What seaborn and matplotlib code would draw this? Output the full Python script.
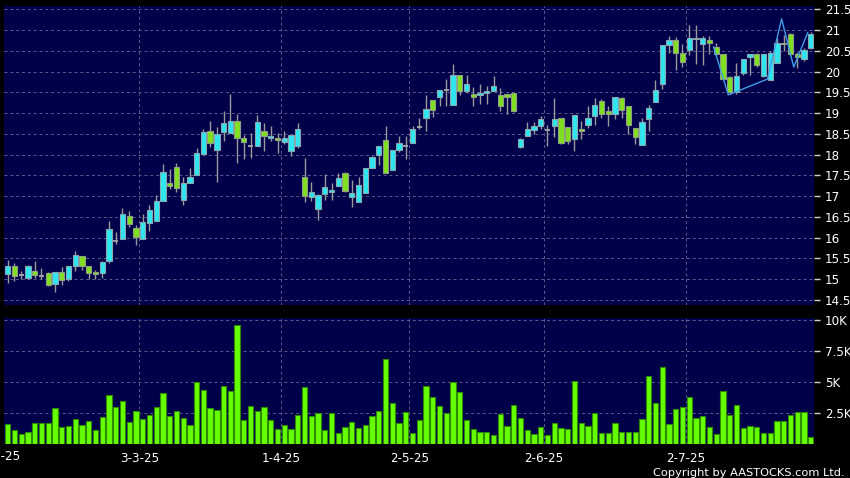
import numpy as np
import matplotlib
matplotlib.use('Agg')
import matplotlib.pyplot as plt
import seaborn as sns

# daily OHLC, 3-2-25 .. 28-7-25 (120 trading days)
opens = [15.12, 15.32, 15.10, 15.03, 15.20, 15.09, 15.16, 14.88, 15.18, 15.00,
         15.31, 15.55, 15.32, 15.18, 15.16, 15.44, 15.92, 15.97, 16.53, 16.23,
         15.98, 16.35, 16.40, 16.89, 17.32, 17.70, 16.90, 17.31, 17.52, 18.01,
         18.56, 18.11, 18.54, 18.52, 18.81, 18.40, 18.20, 18.20, 18.56, 18.40,
         18.41, 18.30, 18.10, 18.20, 17.46, 16.99, 16.70, 17.05, 17.10, 17.25,
         17.57, 16.98, 16.87, 17.08, 17.67, 17.99, 18.35, 17.64, 18.11, 18.21,
         18.28, 18.66, 18.88, 19.32, 19.38, 19.56, 19.20, 19.92, 19.54, 19.46,
         19.44, 19.49, 19.54, 19.44, 19.46, 19.49, 18.18, 18.45, 18.59, 18.70,
         18.59, 18.69, 18.89, 18.67, 18.38, 18.62, 18.72, 18.93, 19.29, 19.06,
         18.98, 19.37, 19.16, 18.65, 18.24, 18.86, 19.26, 19.69, 20.65, 20.76,
         20.46, 20.52, 20.78, 20.66, 20.76, 20.60, 20.42, 19.88, 19.50, 19.97,
         20.35, 20.42, 19.90, 19.81, 20.20, 20.70, 20.90, 20.42, 20.30, 20.56]
highs = [15.47, 15.39, 15.20, 15.35, 15.44, 15.26, 15.17, 15.17, 15.30, 15.33,
         15.69, 15.56, 15.33, 15.22, 15.43, 16.41, 16.13, 16.71, 16.65, 16.31,
         16.57, 16.80, 17.03, 17.77, 17.66, 17.81, 17.46, 17.68, 18.16, 18.61,
         18.81, 18.66, 19.05, 19.46, 18.97, 18.48, 18.51, 18.95, 18.76, 18.68,
         18.52, 18.56, 18.48, 18.77, 17.92, 17.34, 17.05, 17.54, 17.32, 17.55,
         17.59, 17.38, 17.46, 17.68, 17.98, 18.22, 18.69, 18.11, 18.45, 18.44,
         18.68, 18.89, 19.44, 19.32, 19.56, 19.82, 20.19, 19.92, 19.93, 19.62,
         19.69, 19.65, 19.90, 19.60, 19.47, 19.49, 18.40, 18.78, 18.78, 18.94,
         18.72, 19.36, 18.89, 18.67, 18.96, 18.82, 19.17, 19.36, 19.33, 19.18,
         19.39, 19.38, 19.16, 18.65, 18.88, 19.20, 19.81, 20.65, 20.86, 20.84,
         20.66, 21.12, 21.12, 20.86, 20.85, 20.70, 20.42, 19.90, 20.20, 20.31,
         20.43, 20.44, 20.42, 20.50, 20.81, 20.88, 20.93, 20.47, 20.56, 20.96]
lows = [14.92, 14.96, 15.00, 15.01, 15.04, 15.00, 14.84, 14.69, 14.85, 14.95,
        15.19, 15.22, 15.01, 15.01, 15.03, 15.39, 15.86, 15.97, 16.25, 15.82,
        15.98, 16.15, 16.40, 16.89, 17.18, 17.09, 16.80, 17.31, 17.52, 18.01,
        18.19, 17.33, 18.33, 18.52, 17.79, 17.90, 17.93, 18.20, 18.08, 18.32,
        18.04, 18.25, 17.96, 18.17, 16.86, 16.88, 16.42, 16.90, 16.92, 17.25,
        17.11, 16.74, 16.86, 17.08, 17.67, 17.75, 17.56, 17.64, 18.07, 17.90,
        18.28, 18.61, 18.56, 18.90, 19.18, 19.18, 19.20, 19.44, 19.49, 19.17,
        19.22, 19.22, 19.54, 19.06, 18.98, 19.02, 18.16, 18.45, 18.50, 18.62,
        18.21, 18.42, 18.26, 18.26, 18.09, 18.38, 18.64, 18.72, 18.88, 18.70,
        18.86, 18.88, 18.49, 18.26, 18.24, 18.58, 19.26, 19.59, 20.45, 20.05,
        20.11, 20.40, 20.18, 20.16, 20.43, 20.40, 19.80, 19.45, 19.46, 19.93,
        19.92, 20.10, 19.88, 19.81, 20.20, 20.50, 20.40, 20.08, 20.25, 20.55]
closes = [15.32, 15.08, 15.10, 15.32, 15.10, 15.09, 14.86, 15.17, 14.98, 15.32,
          15.59, 15.31, 15.15, 15.12, 15.42, 16.22, 15.92, 16.57, 16.32, 16.02,
          16.37, 16.66, 16.89, 17.59, 17.24, 17.19, 17.32, 17.46, 18.04, 18.54,
          18.27, 18.49, 18.76, 18.81, 18.40, 18.30, 18.20, 18.78, 18.44, 18.44,
          18.36, 18.40, 18.48, 18.62, 17.00, 17.10, 17.03, 17.22, 17.16, 17.43,
          17.13, 17.08, 17.28, 17.67, 17.95, 18.22, 17.56, 18.11, 18.27, 18.21,
          18.61, 18.66, 19.09, 19.08, 19.56, 19.56, 19.92, 19.54, 19.70, 19.39,
          19.49, 19.54, 19.65, 19.18, 19.38, 19.05, 18.37, 18.62, 18.68, 18.85,
          18.59, 18.86, 18.28, 18.34, 18.96, 18.58, 18.89, 19.20, 18.98, 18.98,
          19.39, 19.08, 18.72, 18.43, 18.78, 19.13, 19.56, 20.65, 20.76, 20.46,
          20.24, 20.80, 20.82, 20.80, 20.70, 20.42, 19.82, 19.51, 19.90, 20.30,
          20.42, 20.15, 20.42, 20.46, 20.70, 20.66, 20.42, 20.35, 20.52, 20.90]
volumes = [1600, 1150, 770, 990, 1740, 1660, 1710, 2940, 1340, 1440,
           2000, 1500, 1900, 1100, 2220, 3930, 2960, 3450, 1760, 2670,
           2030, 2320, 2990, 4140, 2300, 2640, 2080, 1500, 4990, 4410,
           2940, 2720, 4700, 4330, 9620, 1980, 3070, 2640, 2990, 1980,
           1180, 1500, 1180, 2380, 4620, 2300, 2540, 1100, 2480, 930,
           1340, 1760, 1280, 1500, 2300, 2670, 6920, 3340, 1740, 2620,
           910, 1920, 4700, 3820, 3070, 2540, 5020, 4250, 1980, 1180,
           960, 1010, 720, 2400, 1440, 3130, 2110, 1150, 770, 1340,
           690, 1680, 1280, 1200, 5100, 1740, 1470, 2480, 880, 930,
           1740, 1010, 1010, 1010, 2000, 5500, 3340, 6200, 1580, 2800,
           2960, 3770, 2110, 2240, 1390, 800, 4330, 2350, 3150, 1310,
           1420, 1360, 880, 880, 1840, 1870, 2320, 2620, 2620, 590]

# overlay line (day index, price)
line_days = [104.6, 106.8, 112.6, 114.7, 116.5, 118.6]
line_prices = [20.60, 19.44, 19.82, 21.27, 20.11, 20.95]

month_ticks = [19.5, 40.5, 59.5, 79.5, 100.5]
month_labels = ['3-3-25', '1-4-25', '2-5-25', '2-6-25', '2-7-25']
price_ticks = [14.5, 15, 15.5, 16, 16.5, 17, 17.5, 18, 18.5, 19, 19.5, 20, 20.5, 21, 21.5]
vol_ticks = [2500, 5000, 7500, 10000]
vol_labels = ['2.5K', '5K', '7.5K', '10K']

sns.set_style('dark')

navy = '#00004a'
grid_kw = dict(color='#5c5c8c', linestyle=(0, (3, 3)), linewidth=0.7)
tick_kw = dict(colors='#cfcfcf', labelcolor='white', length=4, width=1,
               pad=4, labelsize=8.6, direction='out')

fig = plt.figure(figsize=(8.5, 4.78), dpi=100, facecolor='black')
ax = fig.add_axes([4 / 850, 1 - 305 / 478, 810 / 850, 299 / 478])
axv = fig.add_axes([4 / 850, 1 - 444 / 478, 810 / 850, 126 / 478])

days = np.arange(len(closes))
o = np.array(opens)
c = np.array(closes)
up = c > o
down = c < o
flat = c == o

ax.vlines(days, lows, highs, color='#9a9a9a', linewidth=1, zorder=2)
ax.bar(days[up], (c - o)[up], bottom=o[up], width=0.78, color='#2fe6f0',
       edgecolor='#8aa6ac', linewidth=0.8, zorder=3)
ax.bar(days[down], (o - c)[down], bottom=c[down], width=0.78, color='#80e020',
       edgecolor='#8f9f86', linewidth=0.8, zorder=3)
ax.hlines(c[flat], days[flat] - 0.39, days[flat] + 0.39, color='#a8a8a8',
          linewidth=1.3, zorder=3)

sns.lineplot(x=line_days, y=line_prices, ax=ax, color='#3f9de6',
             linewidth=1, zorder=4)

ax.set_facecolor(navy)
ax.set_xlim(-0.55, 119.5)
ax.set_ylim(14.38, 21.58)
ax.set_xticks(month_ticks)
ax.set_xticklabels([])
ax.set_yticks(price_ticks)
ax.set_yticklabels(['%g' % t for t in price_ticks])
ax.yaxis.tick_right()
ax.tick_params(axis='x', length=0)
ax.tick_params(axis='y', **tick_kw)
ax.grid(True, **grid_kw)
ax.set_xlabel('')
ax.set_ylabel('')

sns.barplot(x=days, y=volumes, ax=axv, native_scale=True, width=0.78,
            color='#66ff00', saturation=1, edgecolor='#2e8a00',
            linewidth=0.8, errorbar=None, zorder=3)
axv.set_facecolor(navy)
axv.set_xlim(-0.55, 119.5)
axv.set_ylim(0, 10200)
axv.set_xticks(month_ticks)
axv.set_xticklabels(month_labels)
axv.set_yticks(vol_ticks)
axv.set_yticklabels(vol_labels)
axv.yaxis.tick_right()
axv.tick_params(axis='both', **tick_kw)
axv.tick_params(axis='x', pad=2)
axv.grid(True, **grid_kw)
axv.set_xlabel('')
axv.set_ylabel('')

for a in (ax, axv):
    for s in a.spines.values():
        s.set_visible(False)
    a.set_axisbelow(True)

fig.text(1 / 850, 1 - 456 / 478, '3-2-25', ha='center', va='center',
         color='white', fontsize=8.6)
fig.text(845 / 850, 1 - 476 / 478, 'Copyright by AASTOCKS.com Ltd.',
         ha='right', va='baseline', color='white', fontsize=8.2)

fig.savefig('out.png', dpi=100, facecolor='black')
